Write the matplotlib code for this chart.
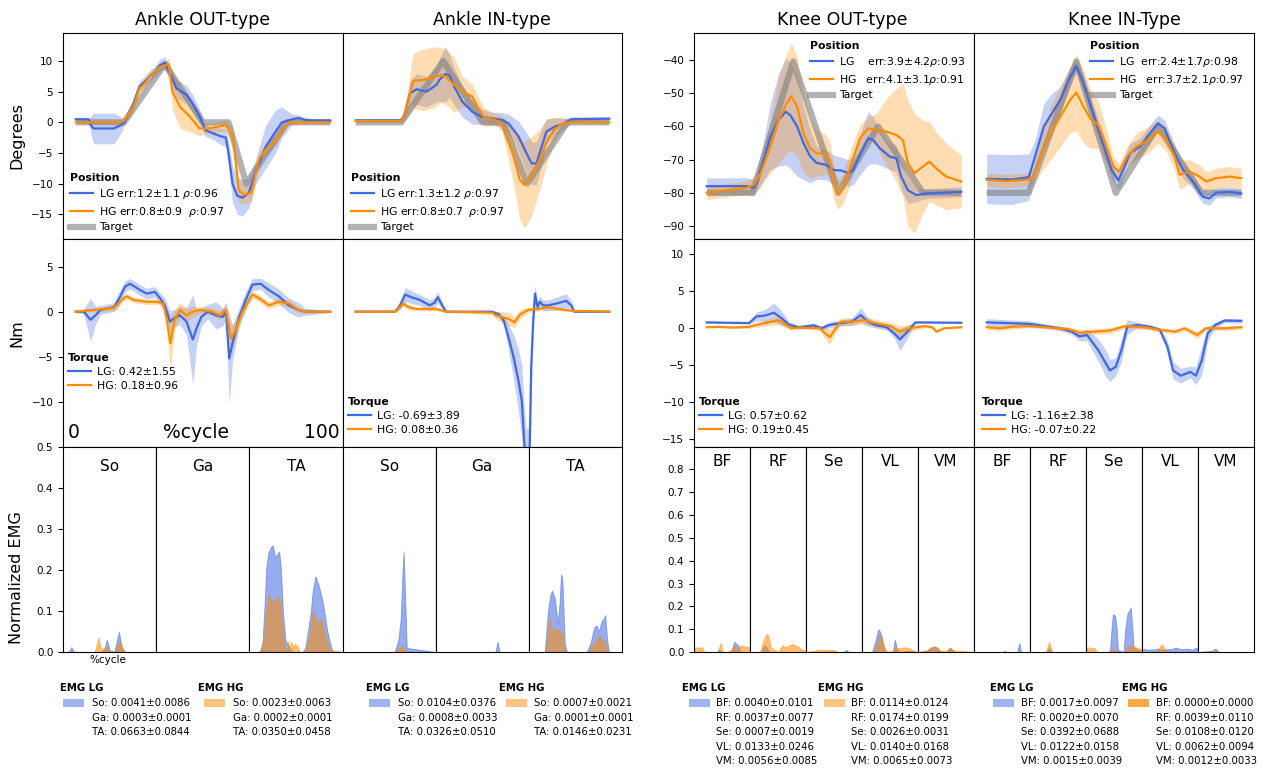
import numpy as np
import matplotlib
matplotlib.use("Agg")
import matplotlib.pyplot as plt
from matplotlib.lines import Line2D
from matplotlib.patches import Rectangle

# ---------------- data (x in %cycle) ----------------
# Ankle OUT-type position [deg]
ao_tgt_x = [0, 19, 35, 50, 60, 67, 83, 100]
ao_tgt = [0, 0, 9.5, 0, 0, -10, 0, 0]
ao_pos_x_lg = [0, 5, 6, 7, 15, 18, 19, 22.6, 25, 27.5, 29, 31, 33, 35, 37, 39.6, 43.5, 46, 48.6, 51,
               54, 56.4, 59, 60, 61.6, 63.5, 65.5, 68, 70.7, 74.6, 78.5, 81, 85, 87.5, 90, 93, 100]
ao_pos_lg = [0.5, 0.5, -0.5, -1.0, -1.0, -0.4, 0.0, 3.0, 5.8, 6.8, 7.5, 8.2, 9.3, 9.7, 8.0, 5.5, 4.5, 3.0, 1.0, -1.3,
             -1.8, -2.2, -2.5, -5.0, -10.0, -12.0, -12.3, -11.5, -8.0, -4.0, -1.5, 0.0, 0.5, 0.7, 0.4, 0.3, 0.3]
ao_pos_lg_sd = [0.3, 0.3, 1.5, 2.5, 2.5, 1.2, 0.6, 0.8, 0.9, 0.9, 0.9, 0.9, 1.0, 1.0, 1.2, 1.5, 1.5, 1.5, 1.2, 1.0,
                1.0, 1.3, 1.5, 2.0, 3.0, 3.0, 3.0, 2.5, 2.0, 3.5, 3.5, 2.5, 0.8, 0.5, 0.4, 0.3, 0.3]
ao_pos_x_hg = [0, 18, 19, 22.6, 25, 27.5, 29, 33, 35, 36.5, 38, 41, 44.7, 48.6, 52, 56, 59, 61.6, 63, 64,
               66, 69, 72, 74.6, 78.5, 82.5, 84, 100]
ao_pos_hg = [0, 0, 0.3, 2.5, 5.5, 6.5, 7.5, 9.0, 9.3, 9.5, 5.0, 2.5, 1.0, -1.0, -1.0, -0.7, -0.5, -2.0, -7.0, -11.0,
             -11.8, -11.5, -6.0, -4.5, -3.0, -0.5, 0.0, 0.0]
ao_pos_hg_sd = [0.2, 0.2, 0.3, 0.8, 0.7, 0.6, 0.6, 0.6, 0.6, 1.0, 3.0, 3.5, 2.5, 1.2, 0.8, 0.8, 1.0, 1.5, 2.0, 2.0,
                1.5, 1.5, 1.2, 1.0, 0.8, 0.5, 0.3, 0.2]

# Ankle IN-type position [deg]
ai_tgt_x = [0, 18, 34.5, 50, 58, 67.5, 83.5, 100]
ai_tgt = [0, 0, 10, 0, 0, -10, 0, 0]
ai_pos_x_lg = [0, 18, 18.8, 21.4, 24, 27.9, 31.8, 33, 35.4, 37, 38.9, 42, 46, 49.9, 53.8, 57.7, 60.3, 64.2, 68, 69.4,
               71.3, 73.3, 75.2, 78.5, 82.4, 85, 100]
ai_pos_lg = [0.3, 0.3, 0.6, 4.7, 5.4, 5.0, 6.1, 6.9, 7.9, 7.6, 5.8, 3.4, 1.7, 0.9, 0.65, 0.4, -0.2, -2.3, -5.6, -6.7,
             -6.7, -4.0, -1.5, -0.7, -0.2, 0.5, 0.6]
ai_pos_lg_sd = [0.3, 0.3, 0.5, 2.0, 2.5, 2.5, 2.8, 3.5, 4.5, 3.5, 3.0, 2.5, 2.0, 1.2, 1.0, 1.2, 1.5, 2.5, 3.5, 3.5,
                3.5, 3.0, 2.0, 1.5, 0.8, 0.4, 0.3]
ai_pos_x_hg = [0, 18, 18.8, 20.8, 22.7, 26.5, 30.4, 33.7, 35.6, 38.9, 42, 46, 47.9, 50.5, 55, 57.7, 59.5, 61.5, 63.4, 64.7,
               66.6, 69.2, 72.5, 75.6, 78.2, 80.8, 84.7, 100]
ai_pos_hg = [0.2, 0.2, 0.6, 3.6, 6.8, 6.9, 7.3, 7.7, 7.4, 6.1, 5.0, 4.2, 2.6, 0.9, 0.4, -0.2, -2.3, -4.5, -7.2, -9.4,
             -10.2, -8.9, -6.1, -2.9, -1.3, -0.4, 0.1, 0.0]
ai_pos_hg_sd = [0.2, 0.2, 0.5, 2.5, 4.5, 5.0, 5.0, 4.5, 4.5, 4.5, 2.5, 2.0, 2.0, 1.5, 1.0, 1.2, 2.5, 4.0, 5.5, 6.5,
                7.0, 6.5, 5.0, 3.5, 2.0, 1.2, 0.4, 0.2]

# Knee OUT-type position [deg]
ko_tgt_x = [0, 18, 34, 51.7, 67.3, 85, 100]
ko_tgt = [-80, -80, -40.5, -80, -60, -80, -80]
ko_pos_x_lg = [0, 15.6, 18.5, 19.8, 22.4, 25, 28.3, 31, 32.8, 35.5, 38, 40.6, 43.2, 47, 49.7, 53, 55.6, 57.5, 60.2, 63.4,
               65.4, 68, 71.9, 74.5, 76.4, 79, 82.3, 86.2, 92.7, 100]
ko_pos_lg = [-78, -78, -78.5, -76.6, -70.1, -63.1, -58, -55.6, -56.6, -60, -65, -69, -71, -71.6, -73.1, -73.3, -74.1,
             -73.1, -68.6, -63.6, -64.1, -66.6, -69.1, -69.6, -75.1, -79.2, -80.7, -80.2, -80, -79.7]
ko_pos_lg_sd = [2.5, 2.5, 2.5, 3.0, 6.0, 10.0, 14.0, 16.0, 16.0, 15.0, 11.0, 8.0, 5.0, 4.5, 4.5, 4.0, 4.0, 4.5, 6.0, 8.0,
                7.0, 5.0, 4.0, 4.0, 4.0, 4.0, 2.0, 1.5, 1.5, 1.5]
ko_pos_x_hg = [0, 15.6, 18.5, 21.2, 25, 28.3, 31.5, 33.2, 35.5, 38, 40.6, 43.2, 46.5, 48.4, 49.7, 51.4, 53.6, 56.9, 60.2,
               63.4, 66.7, 70.6, 74.5, 77.1, 79, 81.6, 84.9, 87.5, 90.1, 94, 100]
ko_pos_hg = [-80, -78.5, -77.6, -74.1, -66.1, -58, -53, -51, -54, -62, -66.6, -68.1, -68.3, -70.1, -76.1, -80.4, -78.7,
             -71.1, -63.6, -60.6, -61.1, -61.6, -62.6, -64.1, -71.1, -74.1, -72.1, -70.6, -72.6, -75.1, -76.6]
ko_pos_hg_sd = [2.0, 2.0, 2.5, 4.0, 8.0, 13.0, 15.0, 16.0, 15.0, 12.0, 9.0, 7.0, 6.0, 5.5, 5.0, 4.5, 4.5, 5.0, 4.0,
                3.5, 5.0, 10.0, 14.0, 17.0, 19.0, 18.0, 14.0, 12.0, 11.0, 10.0, 8.0]

# Knee IN-Type position [deg]
ki_tgt_x = [0, 16.5, 35.2, 50.7, 67.3, 84.2, 100]
ki_tgt = [-80, -80, -40.5, -80, -60, -80, -80]
ki_pos_x_lg = [0, 10, 16.5, 19, 22.4, 25.6, 28.9, 32.2, 35.2, 38, 41.3, 45.2, 49.1, 51.7, 53.6, 56.3, 60.2, 64.1, 67.3,
               69.9, 73.2, 77.1, 81, 84.9, 87.5, 90.1, 95.3, 100]
ki_pos_lg = [-75.8, -76, -75.3, -69.1, -60.1, -56.1, -52, -46, -41.8, -47, -55, -64.1, -73.1, -76.3, -73.1, -68.1,
             -66.1, -62.1, -59.1, -60.6, -67.1, -73.1, -76.6, -81.2, -81.7, -80, -79.7, -80.2]
ki_pos_lg_sd = [7.5, 7.5, 7.0, 5.0, 7.0, 6.0, 4.0, 3.0, 2.0, 2.5, 3.0, 3.0, 3.0, 3.0, 3.0, 3.0, 2.5, 2.5, 2.5, 2.5,
                2.5, 2.5, 2.0, 2.0, 2.0, 1.5, 1.5, 1.5]
ki_pos_x_hg = [0, 8, 16.5, 18.5, 21.1, 25, 28.9, 32.8, 35.2, 38, 40.6, 43.9, 47.1, 49.7, 52.1, 55, 58.8, 63.4, 67.3,
               70.6, 73.8, 75.8, 79.7, 83.6, 86.2, 90.1, 95.3, 100]
ki_pos_hg = [-76.1, -76.5, -76, -75.1, -69.1, -62.1, -57.1, -52, -49.8, -54, -57.6, -59.6, -66.1, -72.1, -73.6, -69.1,
             -66.1, -64.1, -61.6, -64.1, -69.1, -74.6, -73.6, -75.1, -76.6, -75.6, -75.1, -75.6]
ki_pos_hg_sd = [2.0, 2.0, 2.0, 2.5, 5.0, 8.0, 9.0, 10.0, 11.5, 11.0, 9.0, 7.0, 5.0, 3.0, 2.5, 3.0, 4.0, 4.0, 3.5, 3.5,
                4.0, 4.5, 3.5, 3.5, 3.0, 3.0, 3.0, 3.0]

# Torques [Nm]
ao_tq_x_lg = [0, 3.2, 5.8, 7.8, 9.7, 14.9, 16.8, 19.4, 21.4, 25.3, 27.9, 31.1, 33.1, 35, 37, 38.9, 40.9, 43.5, 46, 47.4,
              49.3, 51.9, 55.1, 57.7, 59, 60.3, 61.6, 64.2, 66.8, 69.4, 72.6, 75.9, 79.8, 83.7, 87.5, 90.1, 100]
ao_tq_lg = [0, 0, -0.9, -0.4, 0.2, 0.5, 1.3, 2.8, 3.1, 2.4, 2.0, 2.2, 1.5, 0.7, -1.1, -0.7, -0.4, -1.1, -3.1, -1.9,
            -0.6, 0, -0.4, -0.6, 0, -5.2, -3.5, -0.6, 1.3, 3.0, 3.1, 2.4, 1.7, 0.7, 0.2, 0, 0]
ao_tq_lg_sd = [0.1, 0.3, 2.4, 1.0, 0.5, 0.5, 0.8, 0.6, 0.6, 0.6, 0.6, 0.6, 0.6, 0.8, 1.2, 1.0, 1.0, 1.5, 5.0, 2.0,
               1.0, 0.8, 1.5, 1.0, 1.0, 5.0, 2.0, 1.0, 1.0, 0.7, 0.6, 0.8, 0.8, 0.8, 0.8, 0.4, 0.1]
ao_tq_x_hg = [0, 14.9, 18.8, 20.1, 22.7, 27.9, 31.8, 34.3, 35.6, 37.2, 38.9, 40.9, 43.5, 46, 48.6, 53.8, 56.4, 59, 61,
              62.9, 65.5, 69.4, 72, 75.9, 79.8, 83.7, 87.5, 90, 100]
ao_tq_hg = [0, 0.4, 1.5, 1.7, 1.3, 1.1, 1.1, 0.9, -0.6, -3.5, -0.9, 0.2, -0.4, 0, 0.2, 0, -0.4, 0.2, -3.0,
            -2.0, 0, 1.9, 1.5, 0.7, 1.1, 0.9, 0.2, 0, 0]
ao_tq_hg_sd = [0.1, 0.3, 0.3, 0.3, 0.3, 0.3, 0.3, 0.4, 1.0, 3.0, 1.0, 0.8, 0.8, 0.6, 0.4, 0.4, 0.5, 0.5, 1.5,
               1.0, 0.6, 0.4, 0.4, 0.4, 0.4, 0.4, 0.3, 0.2, 0.1]

ai_tq_x_lg = [0, 15.6, 17.5, 19.5, 22, 25.3, 29.2, 31.1, 32.4, 33.7, 35.6, 53.8, 56.4, 58.4, 60.3, 62.3, 64.2, 65.5,
              66.4, 67.2, 68.5, 69.2, 70, 70.7, 71.7, 72.6, 73.9, 75.9, 79.1, 83, 85, 86.2, 100]
ai_tq_lg = [0, 0, 0.7, 1.9, 1.6, 1.3, 0.7, 1.0, 1.6, 0.9, 0, 0, -0.3, -1.0, -2.9, -5.1, -7.7, -9.9,
            -14.3, -17, -17, -6.2, -1.0, 2.0, 0.5, 1.1, 0.7, 0.7, 0.9, 1.2, 0.7, 0, 0]
ai_tq_lg_sd = [0.05, 0.05, 0.5, 0.8, 0.7, 0.6, 0.6, 0.6, 0.6, 0.5, 0.1, 0.1, 0.3, 0.5, 1.5, 2.5, 3.5, 4.0,
               4.0, 4.0, 4.0, 3.0, 1.5, 1.0, 0.6, 0.6, 0.6, 0.6, 0.7, 0.8, 0.5, 0.1, 0.05]
ai_tq_x_hg = [0, 15.6, 18.8, 20.8, 24, 31.8, 35.6, 53.8, 55.1, 57.7, 60.3, 62.6, 64.8, 68, 71.9, 75.9, 79.8, 85, 100]
ai_tq_hg = [0, 0, 0.9, 0.5, 0.3, 0.3, 0, -0.1, -0.4, -0.6, -0.8, -1.2, -0.3, 0.2, 0.3, 0.5, 0.3, 0.1, 0]
ai_tq_hg_sd = [0.05, 0.05, 0.3, 0.3, 0.2, 0.2, 0.1, 0.2, 0.4, 0.6, 0.7, 0.6, 0.5, 0.3, 0.2, 0.2, 0.2, 0.1, 0.05]

ko_tq_x_lg = [0, 16.6, 19.5, 22.6, 26.4, 29.3, 32.3, 36.1, 42.1, 45.1, 48.1, 52.6, 57.1, 60.5, 63.2, 66.2, 70.7, 73.7,
              75.9, 78.2, 82, 100]
ko_tq_lg = [0.8, 0.7, 1.6, 1.7, 2.1, 1.4, 0.5, 0.15, 0.4, 0, 0.45, 0.7, 0.9, 1.8, 0.9, 0.45, 0.15, -0.7, -1.5, -0.7,
            0.8, 0.75]
ko_tq_lg_sd = [0.1, 0.1, 0.6, 0.8, 1.3, 1.0, 0.4, 0.2, 0.3, 0.3, 0.4, 0.4, 0.5, 1.0, 0.6, 0.4, 0.4, 0.6, 1.5, 1.0,
               0.1, 0.05]
ko_tq_x_hg = [0, 5, 10, 16.6, 19.5, 25.6, 28, 30.2, 33.2, 36.1, 44.4, 46.6, 48.4, 50.3, 52.6, 57.1, 61.6, 66.2, 72.2,
              75.9, 79.6, 85.6, 88.7, 90.2, 93.2, 100]
ko_tq_hg = [0.15, 0.2, 0.1, 0.2, 0.45, 0.9, 1.1, 0.7, 0, 0.1, 0, -0.7, -1.2, -0.2, 0.9, 0.9, 1.1, 0.7, 0.3, -0.45,
            0, 0.3, 0.15, -0.45, 0, 0.15]
ko_tq_hg_sd = [0.1, 0.1, 0.1, 0.2, 0.3, 0.5, 0.5, 0.5, 0.3, 0.2, 0.3, 0.8, 1.0, 0.6, 0.5, 0.5, 0.5, 0.5, 0.5, 0.8,
               0.5, 0.2, 0.2, 0.2, 0.1, 0.1]

ki_tq_x_lg = [0, 16.8, 22.9, 28.9, 33.4, 36.4, 39.4, 43.9, 46.9, 48.4, 50.7, 52.9, 55.2, 58.9, 64.2, 68, 71, 73.2,
              76.2, 80, 82.2, 84.5, 86.8, 89.8, 93.5, 100]
ki_tq_lg = [0.8, 0.6, 0.3, 0, -0.45, -1.1, -0.9, -3.0, -4.8, -5.7, -5.2, -3.0, 0.2, 0.45, 0.2, -0.2, -2.5, -5.7,
            -6.4, -5.9, -6.4, -4.3, -0.7, 0.45, 1.05, 1.0]
ki_tq_lg_sd = [0.5, 0.4, 0.3, 0.3, 0.4, 0.6, 0.8, 1.5, 1.8, 1.5, 1.2, 1.5, 1.0, 0.4, 0.3, 0.3, 0.8, 1.2, 1.0, 0.8,
               1.2, 2.0, 1.0, 0.4, 0.3, 0.3]
ki_tq_x_hg = [0, 5, 10, 16.8, 22.9, 32, 36.4, 42.4, 48.4, 54.4, 61.9, 68, 74, 77.7, 82.7, 86, 93.5, 100]
ki_tq_hg = [0.15, 0.0, 0.2, 0.3, 0.15, -0.1, -0.6, -0.45, -0.3, 0.3, 0.15, -0.2, -0.45, 0, -0.9, 0, 0, 0.15]
ki_tq_hg_sd = [0.3, 0.3, 0.3, 0.2, 0.2, 0.3, 0.4, 0.4, 0.4, 0.3, 0.3, 0.3, 0.3, 0.3, 0.5, 0.3, 0.3, 0.3]

# Normalized EMG, one (x, y) pair per muscle and group
ao_so_x_lg = [0, 6, 9, 12, 40, 44, 47, 50, 55, 58, 60, 63, 66, 100]
ao_so_lg = [0, 0, 0.012, 0, 0, 0.005, 0.03, 0.005, 0, 0.03, 0.05, 0.01, 0, 0]
ao_so_x_hg = [0, 34, 38, 41, 44, 47, 50, 56, 61, 64, 67, 100]
ao_so_hg = [0, 0, 0.035, 0.005, 0.01, 0.012, 0, 0, 0.028, 0.01, 0, 0]
ao_ga_x_lg = [0, 100]
ao_ga_lg = [0.001, 0.001]
ao_ga_x_hg = [0, 100]
ao_ga_hg = [0.001, 0.001]
ao_ta_x_lg = [0, 11, 14, 16, 18, 20, 23, 25, 28, 30, 32, 34, 36, 38.7, 43, 47, 57, 60, 63.5, 66,
              68, 71, 74.8, 77, 79, 83.8, 88, 90, 100]
ao_ta_lg = [0, 0, 0.02, 0.1, 0.2, 0.24, 0.255, 0.26, 0.23, 0.24, 0.245, 0.2, 0.1, 0.03, 0.01, 0, 0, 0.01, 0.06, 0.1,
            0.15, 0.185, 0.16, 0.14, 0.12, 0.05, 0.01, 0, 0]
ao_ta_x_hg = [0, 12, 16, 18, 21, 25, 29, 32, 34, 36, 38, 40.5, 42, 43, 45, 47, 49, 52, 54, 60,
              63.5, 66, 68, 70, 72.5, 75, 77, 81.5, 86, 100]
ao_ta_hg = [0, 0, 0.04, 0.1, 0.14, 0.12, 0.13, 0.135, 0.1, 0.05, 0.01, 0, 0.028, 0.005, 0.025, 0.01, 0.02, 0.012, 0, 0,
            0.03, 0.06, 0.1, 0.09, 0.07, 0.075, 0.08, 0.04, 0.005, 0]

ai_so_x_lg = [0, 56, 60, 62.4, 64.5, 65.6, 67, 69, 100]
ai_so_lg = [0, 0, 0.03, 0.08, 0.2, 0.245, 0.15, 0.01, 0]
ai_so_x_hg = [0, 55, 60, 63.8, 66, 68, 100]
ai_so_hg = [0, 0, 0.008, 0.015, 0.008, 0, 0]
ai_ga_x_lg = [0, 64, 66.5, 68.5, 100]
ai_ga_lg = [0, 0, 0.025, 0, 0]
ai_ga_x_hg = [0, 100]
ai_ga_hg = [0.001, 0.001]
ai_ta_x_lg = [0, 17, 20.5, 23, 25, 28, 31, 33, 34.5, 36, 38.6, 41, 62, 66, 68, 70, 72.7, 75, 78, 80, 82, 84, 86, 100]
ai_ta_lg = [0, 0, 0.1, 0.14, 0.15, 0.13, 0.07, 0.12, 0.19, 0.18, 0.02, 0, 0, 0.02, 0.04, 0.06, 0.065, 0.05, 0.075,
            0.08, 0.09, 0.03, 0, 0]
ai_ta_x_hg = [0, 18, 20, 22.7, 24, 26, 29, 32, 34, 36, 38, 40, 64, 68, 72.7, 76, 79, 81, 84, 100]
ai_ta_hg = [0, 0, 0.04, 0.085, 0.06, 0.05, 0.055, 0.055, 0.05, 0.045, 0.01, 0, 0, 0.015, 0.03, 0.04, 0.03, 0.025, 0, 0]

ko_bf_x_lg = [0, 42, 45, 48, 66, 72, 76, 79, 83, 100]
ko_bf_lg = [0, 0, 0.01, 0, 0, 0.045, 0.035, 0.03, 0, 0]
ko_bf_x_hg = [0, 15, 18, 42, 46, 48, 51, 60, 68, 72, 76, 80, 84, 90, 100]
ko_bf_hg = [0.02, 0.02, 0, 0, 0.03, 0.04, 0, 0, 0.015, 0.03, 0.01, 0.02, 0.03, 0.025, 0.02]
ko_rf_x_lg = [0, 20, 25.5, 30, 34, 100]
ko_rf_lg = [0, 0, 0.03, 0.02, 0, 0]
ko_rf_x_hg = [0, 18, 24, 28, 31, 34, 37, 50, 55, 58.6, 64, 70, 76, 85, 93, 100]
ko_rf_hg = [0, 0, 0.05, 0.075, 0.08, 0.06, 0.02, 0, 0.02, 0.03, 0.02, 0.03, 0.035, 0.025, 0.01, 0.005]
ko_se_x_lg = [0, 68, 72, 76, 100]
ko_se_lg = [0, 0, 0.01, 0, 0]
ko_se_x_hg = [0, 15, 20, 30, 40, 48, 55, 100]
ko_se_hg = [0, 0.005, 0.01, 0.01, 0.008, 0.01, 0, 0]
ko_vl_x_lg = [0, 18, 24, 29, 32, 35, 41, 55, 58.6, 62, 66, 80, 100]
ko_vl_lg = [0, 0, 0.05, 0.1, 0.09, 0.07, 0, 0, 0.055, 0.02, 0, 0.005, 0]
ko_vl_x_hg = [0, 20, 26, 32, 35, 38, 45, 55, 60, 66, 72, 80, 86, 92, 100]
ko_vl_hg = [0, 0, 0.03, 0.08, 0.06, 0.03, 0, 0.005, 0.02, 0.015, 0.02, 0.02, 0.015, 0.005, 0]
ko_vm_x_lg = [0, 15, 24, 30, 36, 40, 52, 57, 61, 65, 100]
ko_vm_lg = [0, 0.005, 0.02, 0.025, 0.015, 0, 0, 0.02, 0.01, 0, 0]
ko_vm_x_hg = [0, 15, 22, 28, 34, 40, 50, 57, 62, 70, 85, 100]
ko_vm_hg = [0, 0.005, 0.02, 0.022, 0.02, 0.005, 0.005, 0.02, 0.008, 0.005, 0.003, 0]

ki_bf_x_lg = [0, 50, 55, 58, 77, 81, 84, 100]
ki_bf_lg = [0, 0, 0.005, 0, 0, 0.04, 0, 0]
ki_bf_x_hg = [0, 100]
ki_bf_hg = [0.001, 0.001]
ki_rf_x_lg = [0, 30, 34, 38, 100]
ki_rf_lg = [0, 0, 0.02, 0, 0]
ki_rf_x_hg = [0, 28, 31, 34, 37, 40, 100]
ki_rf_hg = [0, 0, 0.02, 0.045, 0.02, 0, 0]
ki_se_x_lg = [0, 40, 43, 46, 48, 52, 55, 57, 67, 70, 74, 77, 80, 83, 85, 100]
ki_se_lg = [0, 0, 0.01, 0.12, 0.165, 0.16, 0.1, 0.01, 0, 0.1, 0.17, 0.18, 0.195, 0.1, 0.02, 0]
ki_se_x_hg = [0, 2, 6, 10, 15, 20, 40, 45, 50, 54, 70, 75, 80, 85, 90, 95, 100]
ki_se_hg = [0, 0.02, 0.02, 0.015, 0.018, 0, 0, 0.01, 0.015, 0, 0, 0.025, 0.03, 0.025, 0.02, 0.015, 0.015]
ki_vl_x_lg = [0, 5, 10, 20, 30, 35, 45, 55, 60, 70, 80, 90, 95, 100]
ki_vl_lg = [0.01, 0.015, 0.01, 0.012, 0.015, 0.01, 0.012, 0.015, 0.02, 0.012, 0.015, 0.01, 0.018, 0.015]
ki_vl_x_hg = [0, 25, 31, 35, 39, 45, 100]
ki_vl_hg = [0, 0, 0.02, 0.035, 0.02, 0, 0]
ki_vm_x_lg = [0, 25, 31, 37, 100]
ki_vm_lg = [0, 0.005, 0.015, 0, 0]
ki_vm_x_hg = [0, 25, 31, 37, 100]
ki_vm_hg = [0, 0.003, 0.01, 0, 0]

# texts
titles = ["Ankle OUT-type", "Ankle IN-type", "Knee OUT-type", "Knee IN-Type"]
ao_pos_labels = ["LG err:1.2±1.1 $\\rho$:0.96", "HG err:0.8±0.9  $\\rho$:0.97", "Target"]
ai_pos_labels = ["LG err:1.3±1.2 $\\rho$:0.97", "HG err:0.8±0.7  $\\rho$:0.97", "Target"]
ko_pos_labels = ["LG    err:3.9±4.2$\\rho$:0.93", "HG   err:4.1±3.1$\\rho$:0.91", "Target"]
ki_pos_labels = ["LG  err:2.4±1.7$\\rho$:0.98", "HG   err:3.7±2.1$\\rho$:0.97", "Target"]
ao_tq_labels = ["LG: 0.42±1.55", "HG: 0.18±0.96"]
ai_tq_labels = ["LG: -0.69±3.89", "HG: 0.08±0.36"]
ko_tq_labels = ["LG: 0.57±0.62", "HG: 0.19±0.45"]
ki_tq_labels = ["LG: -1.16±2.38", "HG: -0.07±0.22"]
ankle_muscles = ["So", "Ga", "TA"]
knee_muscles = ["BF", "RF", "Se", "VL", "VM"]
ao_emg_lg_txt = ["So: 0.0041±0.0086", "Ga: 0.0003±0.0001", "TA: 0.0663±0.0844"]
ao_emg_hg_txt = ["So: 0.0023±0.0063", "Ga: 0.0002±0.0001", "TA: 0.0350±0.0458"]
ai_emg_lg_txt = ["So: 0.0104±0.0376", "Ga: 0.0008±0.0033", "TA: 0.0326±0.0510"]
ai_emg_hg_txt = ["So: 0.0007±0.0021", "Ga: 0.0001±0.0001", "TA: 0.0146±0.0231"]
ko_emg_lg_txt = ["BF: 0.0040±0.0101", "RF: 0.0037±0.0077", "Se: 0.0007±0.0019", "VL: 0.0133±0.0246",
                 "VM: 0.0056±0.0085"]
ko_emg_hg_txt = ["BF: 0.0114±0.0124", "RF: 0.0174±0.0199", "Se: 0.0026±0.0031", "VL: 0.0140±0.0168",
                 "VM: 0.0065±0.0073"]
ki_emg_lg_txt = ["BF: 0.0017±0.0097", "RF: 0.0020±0.0070", "Se: 0.0392±0.0688", "VL: 0.0122±0.0158",
                 "VM: 0.0015±0.0039"]
ki_emg_hg_txt = ["BF: 0.0000±0.0000", "RF: 0.0039±0.0110", "Se: 0.0108±0.0120", "VL: 0.0062±0.0094",
                 "VM: 0.0012±0.0033"]

# ---------------- drawing ----------------
W, H = 1263, 776
fig = plt.figure(figsize=(W / 100, H / 100), dpi=100)
BLUE = "royalblue"
ORANGE = "darkorange"
FS = 7.8


def box(l, t, r, b):
    return [l / W, 1 - b / H, (r - l) / W, (b - t) / H]


def fpt(x, y):
    return (x / W, 1 - y / H)


def mean_sd(ax, xl, yl, sl, xh, yh, sh, tx=None, ty=None):
    xl, yl, sl = np.array(xl), np.array(yl), np.array(sl)
    xh, yh, sh = np.array(xh), np.array(yh), np.array(sh)
    ax.fill_between(xl, yl - sl, yl + sl, color=BLUE, alpha=0.3, lw=0)
    ax.fill_between(xh, yh - sh, yh + sh, color=ORANGE, alpha=0.3, lw=0)
    if tx is not None:
        ax.plot(tx, ty, color="gray", lw=4.5, alpha=0.6, solid_capstyle="butt")
    ax.plot(xl, yl, color=BLUE, lw=1.6)
    ax.plot(xh, yh, color=ORANGE, lw=1.6)
    ax.set_xlim(-5, 105)
    ax.tick_params(labelsize=7.5)


def legend(ax, labels, title, x, y, target=True):
    hs = [Line2D([], [], color=BLUE, lw=1.6), Line2D([], [], color=ORANGE, lw=1.6)]
    if target:
        hs.append(Line2D([], [], color="gray", lw=4.5, alpha=0.6))
    ax.legend(hs, labels, title=title, loc="upper left", bbox_to_anchor=fpt(x, y),
              bbox_transform=fig.transFigure, frameon=False, fontsize=FS,
              title_fontproperties={"weight": "bold", "size": FS}, alignment="left",
              borderpad=0, borderaxespad=0, handlelength=2.1, handletextpad=0.6, labelspacing=0.35)


# position row
ax = fig.add_axes(box(63, 33, 343, 239))
mean_sd(ax, ao_pos_x_lg, ao_pos_lg, ao_pos_lg_sd, ao_pos_x_hg, ao_pos_hg, ao_pos_hg_sd, ao_tgt_x, ao_tgt)
ax.set_ylim(-19.03, 14.57); ax.set_yticks([-15, -10, -5, 0, 5, 10]); ax.set_xticks([])
legend(ax, ao_pos_labels, "Position", 70, 173)

ax = fig.add_axes(box(343, 33, 622, 239))
mean_sd(ax, ai_pos_x_lg, ai_pos_lg, ai_pos_lg_sd, ai_pos_x_hg, ai_pos_hg, ai_pos_hg_sd, ai_tgt_x, ai_tgt)
ax.set_ylim(-19.03, 14.57); ax.set_yticks([]); ax.set_xticks([])
legend(ax, ai_pos_labels, "Position", 351, 173)

ax = fig.add_axes(box(694, 33, 974, 239))
mean_sd(ax, ko_pos_x_lg, ko_pos_lg, ko_pos_lg_sd, ko_pos_x_hg, ko_pos_hg, ko_pos_hg_sd, ko_tgt_x, ko_tgt)
ax.set_ylim(-93.9, -31.9); ax.set_yticks([-90, -80, -70, -60, -50, -40]); ax.set_xticks([])
legend(ax, ko_pos_labels, "Position", 810, 41)

ax = fig.add_axes(box(974, 33, 1254, 239))
mean_sd(ax, ki_pos_x_lg, ki_pos_lg, ki_pos_lg_sd, ki_pos_x_hg, ki_pos_hg, ki_pos_hg_sd, ki_tgt_x, ki_tgt)
ax.set_ylim(-93.9, -31.9); ax.set_yticks([]); ax.set_xticks([])
legend(ax, ki_pos_labels, "Position", 1090, 41)

# torque row
ank_ticks = [-5 + 110 * k / 3 for k in (1, 2)]
knee_ticks = [-5 + 110 * k / 5 for k in (1, 2, 3, 4)]

ax = fig.add_axes(box(63, 239, 343, 447))
mean_sd(ax, ao_tq_x_lg, ao_tq_lg, ao_tq_lg_sd, ao_tq_x_hg, ao_tq_hg, ao_tq_hg_sd)
ax.set_ylim(-15.03, 8.07); ax.set_yticks([-10, -5, 0, 5])
ax.set_xticks(ank_ticks); ax.tick_params(axis="x", labelbottom=False)
legend(ax, ao_tq_labels, "Torque", 68, 353, target=False)
ax.text((68 - 63) / 280, 0.072, "0", transform=ax.transAxes, fontsize=13.5, va="center", ha="left")
ax.text((196 - 63) / 280, 0.072, "%cycle", transform=ax.transAxes, fontsize=13.5, va="center", ha="center")
ax.text((340 - 63) / 280, 0.072, "100", transform=ax.transAxes, fontsize=13.5, va="center", ha="right")

ax = fig.add_axes(box(343, 239, 622, 447))
mean_sd(ax, ai_tq_x_lg, ai_tq_lg, ai_tq_lg_sd, ai_tq_x_hg, ai_tq_hg, ai_tq_hg_sd)
ax.set_ylim(-15.03, 8.07); ax.set_yticks([])
ax.set_xticks(ank_ticks); ax.tick_params(axis="x", labelbottom=False)
legend(ax, ai_tq_labels, "Torque", 348, 397, target=False)

ax = fig.add_axes(box(694, 239, 974, 447))
mean_sd(ax, ko_tq_x_lg, ko_tq_lg, ko_tq_lg_sd, ko_tq_x_hg, ko_tq_hg, ko_tq_hg_sd)
ax.set_ylim(-16.04, 12.07); ax.set_yticks([-15, -10, -5, 0, 5, 10])
ax.set_xticks(knee_ticks); ax.tick_params(axis="x", labelbottom=False)
legend(ax, ko_tq_labels, "Torque", 699, 397, target=False)

ax = fig.add_axes(box(974, 239, 1254, 447))
mean_sd(ax, ki_tq_x_lg, ki_tq_lg, ki_tq_lg_sd, ki_tq_x_hg, ki_tq_hg, ki_tq_hg_sd)
ax.set_ylim(-16.04, 12.07); ax.set_yticks([])
ax.set_xticks(knee_ticks); ax.tick_params(axis="x", labelbottom=False)
legend(ax, ki_tq_labels, "Torque", 982, 397, target=False)

# EMG row
ankle_emg = [(ao_so_x_lg, ao_so_lg, ao_so_x_hg, ao_so_hg), (ao_ga_x_lg, ao_ga_lg, ao_ga_x_hg, ao_ga_hg),
             (ao_ta_x_lg, ao_ta_lg, ao_ta_x_hg, ao_ta_hg), (ai_so_x_lg, ai_so_lg, ai_so_x_hg, ai_so_hg),
             (ai_ga_x_lg, ai_ga_lg, ai_ga_x_hg, ai_ga_hg), (ai_ta_x_lg, ai_ta_lg, ai_ta_x_hg, ai_ta_hg)]
knee_emg = [(ko_bf_x_lg, ko_bf_lg, ko_bf_x_hg, ko_bf_hg), (ko_rf_x_lg, ko_rf_lg, ko_rf_x_hg, ko_rf_hg),
            (ko_se_x_lg, ko_se_lg, ko_se_x_hg, ko_se_hg), (ko_vl_x_lg, ko_vl_lg, ko_vl_x_hg, ko_vl_hg),
            (ko_vm_x_lg, ko_vm_lg, ko_vm_x_hg, ko_vm_hg), (ki_bf_x_lg, ki_bf_lg, ki_bf_x_hg, ki_bf_hg),
            (ki_rf_x_lg, ki_rf_lg, ki_rf_x_hg, ki_rf_hg), (ki_se_x_lg, ki_se_lg, ki_se_x_hg, ki_se_hg),
            (ki_vl_x_lg, ki_vl_lg, ki_vl_x_hg, ki_vl_hg), (ki_vm_x_lg, ki_vm_lg, ki_vm_x_hg, ki_vm_hg)]


def emg_row(left, right, names, data, ylim, yticks, label_y):
    n = len(names)
    w = (right - left) / n
    for i, (name, (xl, yl, xh, yh)) in enumerate(zip(names, data)):
        ax = fig.add_axes(box(left + i * w, 447, left + (i + 1) * w, 652))
        ax.fill_between(xl, 0, yl, color=BLUE, alpha=0.55, lw=0.6)
        ax.fill_between(xh, 0, yh, color=ORANGE, alpha=0.55, lw=0.6)
        ax.set_xlim(0, 100)
        ax.set_ylim(*ylim)
        ax.set_xticks([])
        if i == 0:
            ax.set_yticks(yticks)
            ax.tick_params(labelsize=7.5)
        else:
            ax.set_yticks([])
        ax.text(0.5, label_y, name, transform=ax.transAxes, ha="center", va="center", fontsize=11)


emg_row(63, 622, ankle_muscles * 2, ankle_emg, (0, 0.5), [0, 0.1, 0.2, 0.3, 0.4, 0.5], 0.907)
emg_row(694, 1254, knee_muscles * 2, knee_emg, (0, 0.898), [0.1 * k for k in range(9)], 0.93)
fig.text(*fpt(108, 660), "%cycle", fontsize=7.5, ha="center", va="center")


def emg_legend(xt, xp, xtxt, title, color, alpha, lines):
    fig.text(*fpt(xt, 688), title, fontsize=7.3, fontweight="bold", ha="left", va="center")
    fig.add_artist(Rectangle(fpt(xp, 707), 21 / W, 8 / H, transform=fig.transFigure,
                             facecolor=color, alpha=alpha, lw=0))
    for k, s in enumerate(lines):
        fig.text(*fpt(xtxt, 703 + 14.6 * k), s, fontsize=7.3, ha="left", va="center")


emg_legend(59.6, 63, 91.5, "EMG LG", BLUE, 0.5, ao_emg_lg_txt)
emg_legend(198, 204, 233, "EMG HG", ORANGE, 0.5, ao_emg_hg_txt)
emg_legend(366, 369, 398, "EMG LG", BLUE, 0.5, ai_emg_lg_txt)
emg_legend(498.7, 505.5, 534, "EMG HG", ORANGE, 0.5, ai_emg_hg_txt)
emg_legend(682.4, 689, 716, "EMG LG", BLUE, 0.5, ko_emg_lg_txt)
emg_legend(818, 824, 851, "EMG HG", ORANGE, 0.5, ko_emg_hg_txt)
emg_legend(990, 993, 1021, "EMG LG", BLUE, 0.5, ki_emg_lg_txt)
emg_legend(1122.5, 1128, 1156, "EMG HG", ORANGE, 0.75, ki_emg_hg_txt)

# titles and row labels
for t, cx in zip(titles, [202.5, 491.7, 842.5, 1124]):
    fig.text(*fpt(cx, 20), t, fontsize=12.5, ha="center", va="center")
fig.text(*fpt(17, 136), "Degrees", fontsize=11.5, rotation=90, ha="center", va="center")
fig.text(*fpt(17, 333), "Nm", fontsize=11.5, rotation=90, ha="center", va="center")
fig.text(*fpt(17, 578), "Normalized EMG", fontsize=11.5, rotation=90, ha="center", va="center")

fig.savefig("out.png", dpi=100)
